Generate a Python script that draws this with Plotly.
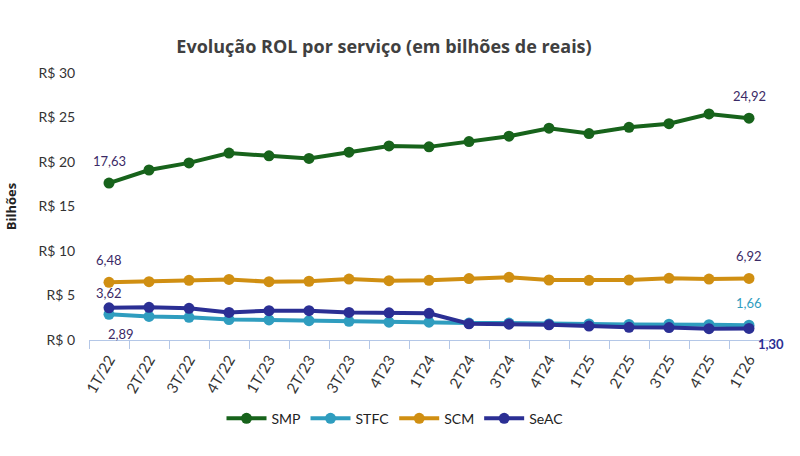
import plotly.graph_objects as go

categories = ["1T/22", "2T/22", "3T/22", "4T/22", "1T/23", "2T/23", "3T/23", "4T23",
              "1T24", "2T24", "3T24", "4T24", "1T25", "2T25", "3T25", "4T25", "1T26"]
smp = [17.63, 19.1, 19.9, 21.0, 20.7, 20.4, 21.1, 21.8, 21.7, 22.3, 22.9, 23.8, 23.2, 23.9, 24.3, 25.4, 24.92]
stfc = [2.89, 2.65, 2.55, 2.3, 2.25, 2.17, 2.1, 2.0, 2.0, 1.9, 1.9, 1.8, 1.8, 1.75, 1.78, 1.72, 1.66]
scm = [6.48, 6.55, 6.7, 6.8, 6.55, 6.6, 6.85, 6.67, 6.7, 6.9, 7.04, 6.74, 6.7, 6.74, 6.93, 6.85, 6.92]
seac = [3.62, 3.67, 3.56, 3.1, 3.3, 3.3, 3.1, 3.05, 3.0, 1.82, 1.78, 1.7, 1.57, 1.42, 1.4, 1.27, 1.30]
y_ticks = [0, 5, 10, 15, 20, 25, 30]
y_tick_labels = ["R$ 0", "R$ 5", "R$ 10", "R$ 15", "R$ 20", "R$ 25", "R$ 30"]

series = [
    ("SMP", smp, "#17631b"),
    ("STFC", stfc, "#2f9dbf"),
    ("SCM", scm, "#d08f12"),
    ("SeAC", seac, "#2b2f94"),
]

fig = go.Figure()
for name, vals, color in series:
    fig.add_trace(go.Scatter(
        x=categories, y=vals, name=name, mode="lines+markers",
        line=dict(color=color, width=4),
        marker=dict(color=color, size=11),
    ))

label_color = "#3b2a66"
anns = [
    (categories[0], smp[0], "17,63", 0, -22, label_color),
    (categories[-1], smp[-1], "24,92", 0, -22, label_color),
    (categories[0], scm[0], "6,48", 0, -22, label_color),
    (categories[-1], scm[-1], "6,92", 0, -22, label_color),
    (categories[0], seac[0], "3,62", 0, -15, label_color),
    (categories[0], stfc[0], "2,89", 12, 20, label_color),
    (categories[-1], stfc[-1], "1,66", 0, -22, "#2f9dbf"),
    (categories[-1], seac[-1], "<b>1,30</b>", 22, 16, "#2b2f94"),
]
for x, y, t, ax, ay, c in anns:
    fig.add_annotation(x=x, y=y, text=t, showarrow=False, xshift=ax, yshift=-ay,
                       font=dict(family="Lato, Arial", size=13, color=c))

fig.update_layout(
    width=800, height=456,
    margin=dict(l=89, r=31, t=73, b=116),
    paper_bgcolor="white", plot_bgcolor="white",
    title=dict(text="<b>Evolução ROL por serviço (em bilhões de reais)</b>",
               x=0.48, xanchor="center", y=0.897, yanchor="middle",
               font=dict(family="Open Sans, Arial", size=18, color="#404040")),
    showlegend=True,
    legend=dict(orientation="h", x=0.45, xanchor="center", y=-0.295, yanchor="middle",
                font=dict(family="Lato, Arial", size=14, color="#222222"),
                itemwidth=40, tracegroupgap=0),
    font=dict(family="Lato, Arial"),
)
fig.update_xaxes(
    type="category", range=[-0.5, 16.5],
    showline=True, linecolor="#b4c7e7", linewidth=1,
    ticks="outside", tickson="boundaries", ticklen=8, tickcolor="#b4c7e7",
    tickangle=-60, tickfont=dict(family="Lato, Arial", size=15, color="#333333"),
    ticklabelstandoff=4,
    showgrid=False, zeroline=False,
)
fig.update_yaxes(
    range=[0, 30], tickvals=y_ticks, ticktext=y_tick_labels,
    showgrid=False, zeroline=False, showline=False,
    ticks="outside", ticklen=10, tickcolor="rgba(0,0,0,0)",
    tickfont=dict(family="Lato, Arial", size=14, color="#333333"),
    title=dict(text="<b>Bilhões</b>", font=dict(family="Open Sans, Arial", size=13, color="#222222"), standoff=18),
)

fig.write_html("out.html")
